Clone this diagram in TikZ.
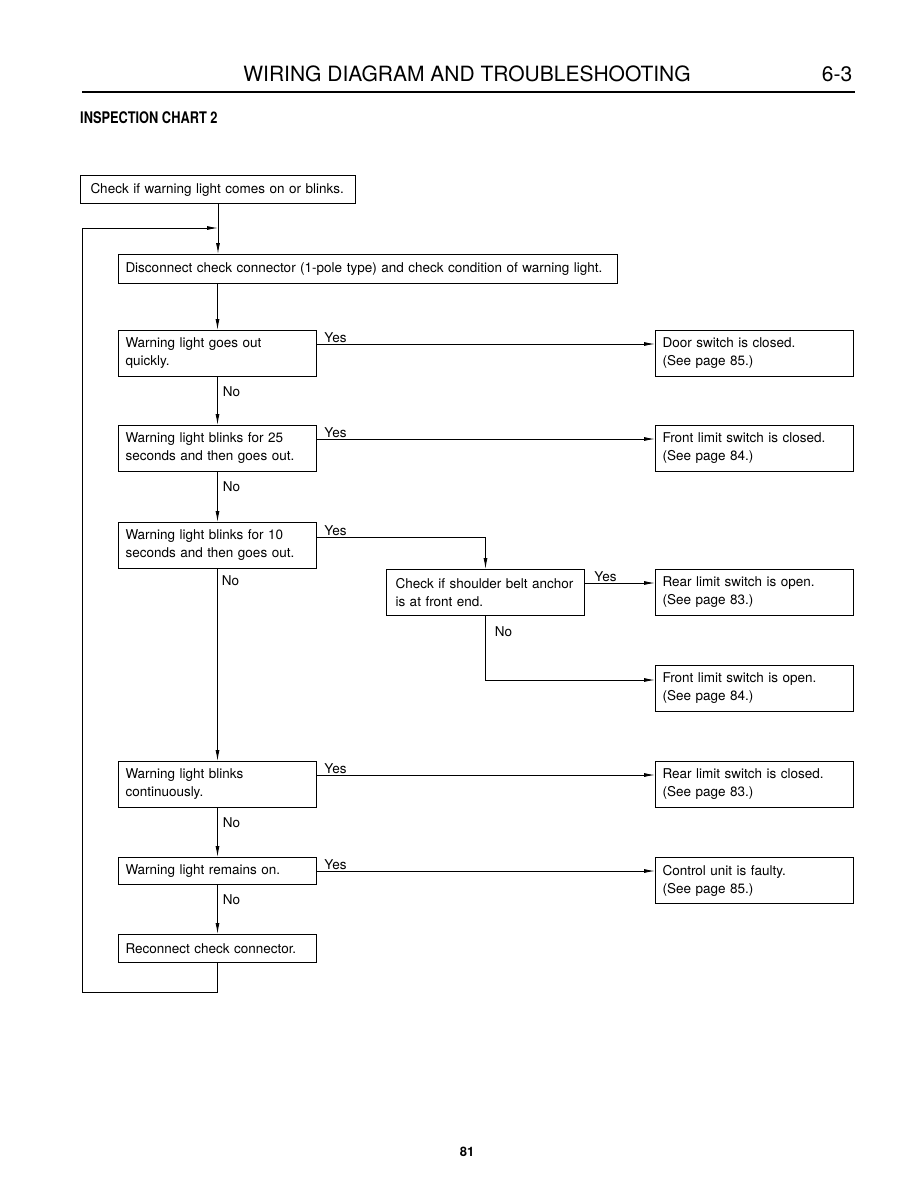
\documentclass[tikz,border=0pt]{standalone}
\usepackage{fontspec}
\setmainfont{TeX Gyre Heros}
\newfontfamily\condfont[FakeStretch=0.8]{TeX Gyre Heros}
\usetikzlibrary{positioning,calc,arrows.meta}

\begin{document}
\begin{tikzpicture}[x=1pt, y=-1pt,
	box/.style={draw, line width=1pt, anchor=north west, minimum width=198pt, minimum height=46pt, text width=184pt, inner xsep=7pt, align=left, font=\fontsize{13.5}{18}\selectfont},
	lbl/.style={font=\fontsize{13.5}{16}\selectfont, inner sep=1pt},
	arr/.style={line width=0.9pt, -{Latex[length=11pt, width=4pt]}}]
	\useasboundingbox (0,0) rectangle (916,1188);
	% page heading
	\node[font=\fontsize{21}{24}\selectfont] (title) at (467,74) {WIRING DIAGRAM AND TROUBLESHOOTING};
	\node[font=\fontsize{21}{24}\selectfont] (sect) at (837,74) {6-3};
	\coordinate (ruleL) at (82,92);
	\coordinate (ruleR) at (855,92);
	\draw[line width=2.4pt] (ruleL) -- (ruleR);
	\node[anchor=west, inner sep=0pt, font=\condfont\bfseries\fontsize{16}{18}\selectfont] (chart) at (80,118) {INSPECTION CHART 2};
	% boxes
	\node[box, minimum width=275pt, text width=255pt, inner xsep=10pt, minimum height=28pt] (start) at (80,175) {Check if warning light comes on or blinks.};
	\node[box, minimum width=499pt, text width=485pt, minimum height=29pt] (disc) at (118,254) {Disconnect check connector (1-pole type) and check condition of warning light.};
	\node[box] (q1) at (118,330) {Warning light goes out\\quickly.};
	\node[box] (r1) at (655,330) {Door switch is closed.\\(See page 85.)};
	\node[box] (q2) at (118,425) {Warning light blinks for 25\\seconds and then goes out.};
	\node[box] (r2) at (655,425) {Front limit switch is closed.\\(See page 84.)};
	\node[box] (q3) at (118,522) {Warning light blinks for 10\\seconds and then goes out.};
	\node[box, inner xsep=9pt, text width=180pt] (q4) at (386,569) {Check if shoulder belt anchor\\is at front end.};
	\node[box] (r3) at (655,569) {Rear limit switch is open.\\(See page 83.)};
	\node[box] (r4) at (655,665) {Front limit switch is open.\\(See page 84.)};
	\node[box] (q5) at (118,761) {Warning light blinks\\continuously.};
	\node[box] (r5) at (655,761) {Rear limit switch is closed.\\(See page 83.)};
	\node[box, minimum height=27pt] (q6) at (118,857) {Warning light remains on.};
	\node[box] (r6) at (655,857) {Control unit is faulty.\\(See page 85.)};
	\node[box, minimum height=28pt] (recon) at (118,934) {Reconnect check connector.};
	% main line
	\draw[arr] (start.south) -- (start.south |- disc.north);
	\draw[arr] (disc.south -| q1.north) -- (q1.north);
	\draw[arr] (q1.south) -- node[lbl, pos=0.3, anchor=west, xshift=4pt] (n1) {No} (q2.north);
	\draw[arr] (q2.south) -- node[lbl, pos=0.3, anchor=west, xshift=4pt] (n2) {No} (q3.north);
	\draw[arr] (q3.south) -- node[lbl, at start, anchor=north west, xshift=3pt, yshift=-5pt] (n3) {No} (q5.north);
	\draw[arr] (q5.south) -- node[lbl, pos=0.3, anchor=west, xshift=4pt] (n5) {No} (q6.north);
	\draw[arr] (q6.south) -- node[lbl, pos=0.3, anchor=west, xshift=4pt] (n6) {No} (recon.north);
	% return loop
	\coordinate (lb) at (82,992);
	\coordinate (lt) at (82,228);
	\draw[arr] (recon.south) |- (lb) -- (lt) -- (lt -| start.south);
	% yes branches
	\draw[arr] ([yshift=-14pt]q1.north east) -- node[lbl, at start, anchor=south west, xshift=6pt] (y1) {Yes} ([yshift=-14pt]q1.north east -| r1.west);
	\draw[arr] ([yshift=-14pt]q2.north east) -- node[lbl, at start, anchor=south west, xshift=6pt] (y2) {Yes} ([yshift=-14pt]q2.north east -| r2.west);
	\draw[arr] ([yshift=-15pt]q3.north east) -| node[lbl, at start, anchor=south west, xshift=6pt] (y3) {Yes} (q4.north);
	\draw[arr] ([yshift=-14pt]q4.north east) -- node[lbl, at start, anchor=south west, xshift=8pt] (y4) {Yes} ([yshift=-14pt]q4.north east -| r3.west);
	\draw[arr] (q4.south) |- node[lbl, at start, anchor=north west, xshift=8pt, yshift=-9pt] (n4) {No} ([yshift=-15pt]r4.north west);
	\draw[arr] ([yshift=-14pt]q5.north east) -- node[lbl, at start, anchor=south west, xshift=6pt] (y5) {Yes} ([yshift=-14pt]q5.north east -| r5.west);
	\draw[arr] ([yshift=-14pt]q6.north east) -- node[lbl, at start, anchor=south west, xshift=6pt] (y6) {Yes} ([yshift=-14pt]q6.north east -| r6.west);
	% page number
	\node[font=\bfseries\fontsize{13}{15}\selectfont] (page) at (467,1152) {81};
\end{tikzpicture}
\end{document}
